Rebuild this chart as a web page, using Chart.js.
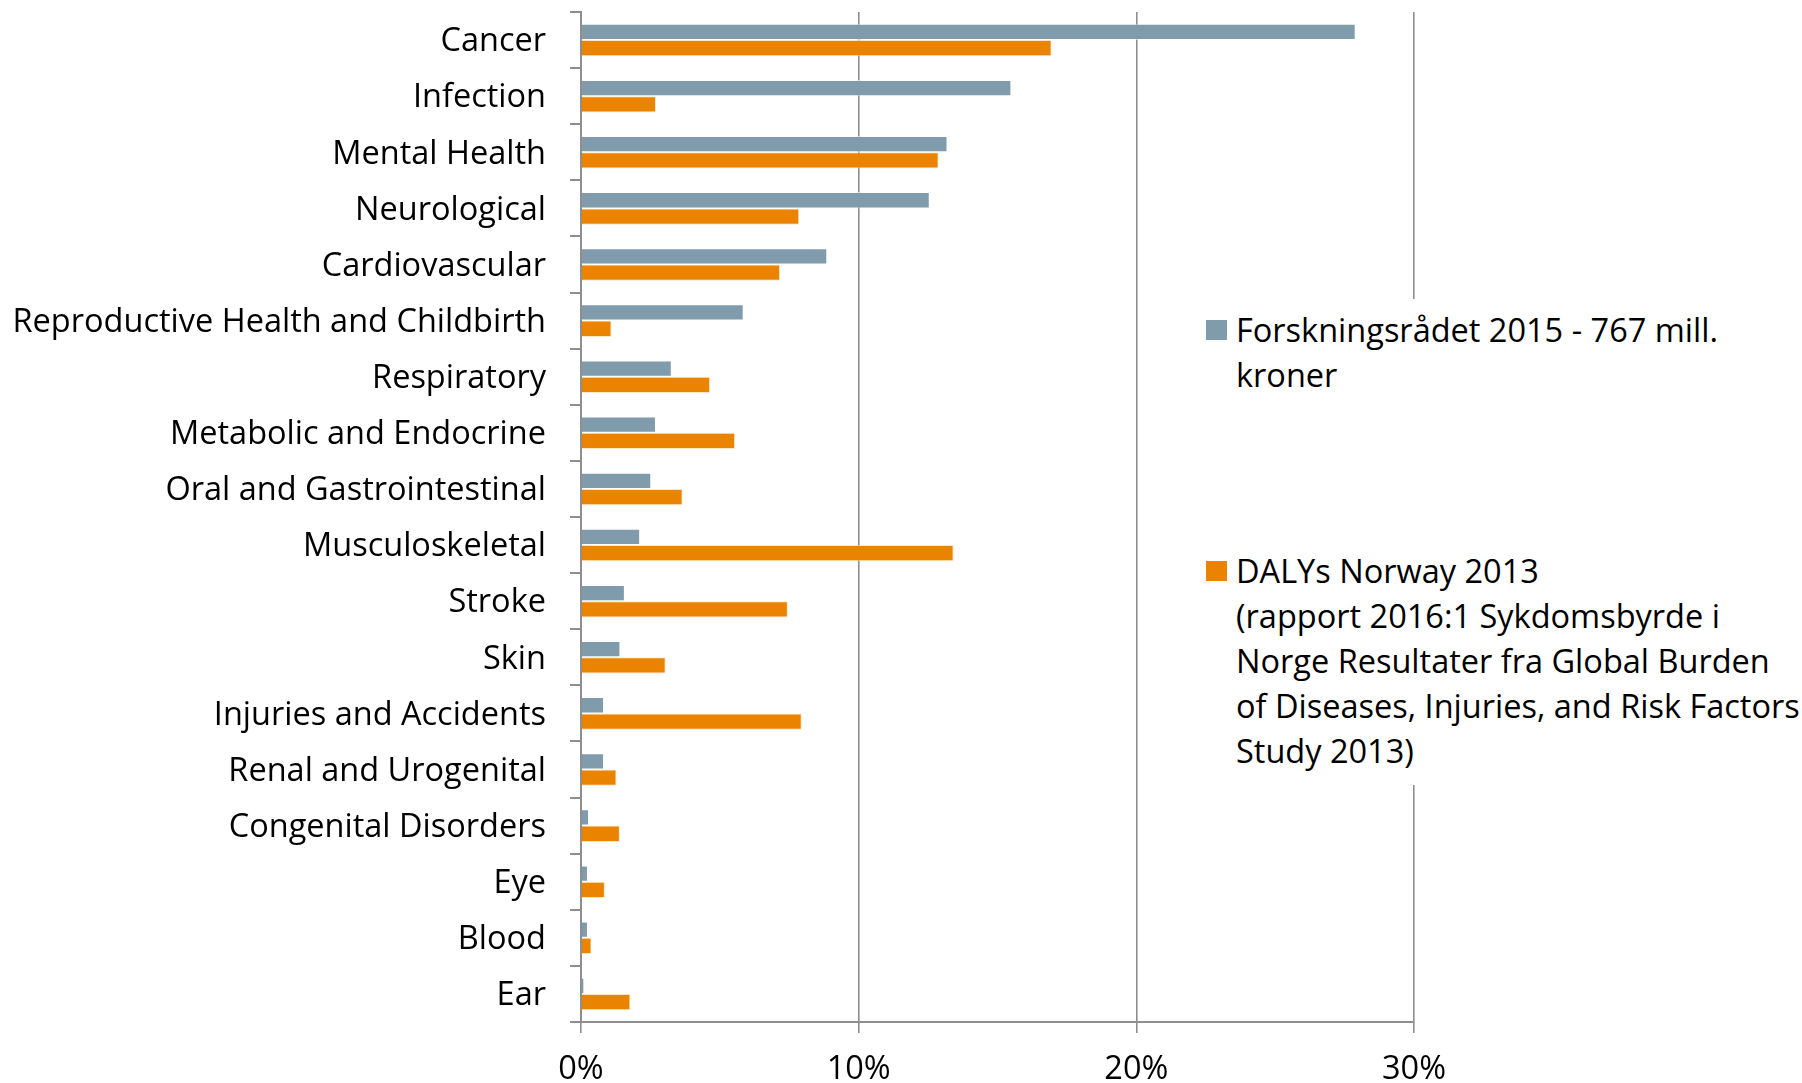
<!DOCTYPE html>
<html>
<head>
<meta charset="utf-8">
<script src="https://cdn.jsdelivr.net/npm/chart.js@4/dist/chart.umd.min.js"></script>
<style>
  html, body { margin: 0; padding: 0; background: #fff; }
  #wrap { position: relative; width: 1802px; height: 1083px; }
  #legend { position: absolute; left: 1195px; top: 299px; width: 607px; height: 486px; background: #fff;
            font-family: 'Open Sans', sans-serif; font-size: 32.5px; color: #000; }
  .item { position: absolute; left: 11px; line-height: 45px; }
  .item .sw { position: absolute; left: 0; width: 21px; height: 20px; }
  .item .txt { position: absolute; left: 30px; white-space: nowrap; }
</style>
</head>
<body>
<div id="wrap">
  <canvas id="chart" width="1802" height="1083"></canvas>
  <div id="legend"></div>
</div>
<script>
const categories = ['Cancer', 'Infection', 'Mental Health', 'Neurological', 'Cardiovascular',
  'Reproductive Health and Childbirth', 'Respiratory', 'Metabolic and Endocrine',
  'Oral and Gastrointestinal', 'Musculoskeletal', 'Stroke', 'Skin', 'Injuries and Accidents',
  'Renal and Urogenital', 'Congenital Disorders', 'Eye', 'Blood', 'Ear'];

const forskningsradet = [27.9, 15.5, 13.2, 12.56, 8.87, 5.86, 3.27, 2.7, 2.53, 2.13, 1.58, 1.42,
  0.83, 0.83, 0.29, 0.25, 0.25, 0.12];
const dalys = [16.95, 2.7, 12.88, 7.86, 7.17, 1.1, 4.65, 5.55, 3.66, 13.42, 7.45, 3.05,
  7.95, 1.28, 1.4, 0.86, 0.38, 1.78];

const seriesNames = ['Forskningsrådet 2015 - 767 mill. kroner', 'DALYs Norway 2013'];
const xTicks = [0, 10, 20, 30];

const blue = '#7F9BAC';
const orange = '#EA8400';
const gridGray = '#8E8E8E';
const font = { family: 'Open Sans', size: 32.5 };

// legend drawn as html, lines broken like the original
const legendItems = [
  { color: blue, top: 307, lines: ['Forskningsrådet 2015 - 767 mill.', 'kroner'] },
  { color: orange, top: 548, lines: ['DALYs Norway 2013', '(rapport 2016:1 Sykdomsbyrde i',
    'Norge Resultater fra Global Burden', 'of Diseases, Injuries, and Risk Factors', 'Study 2013)'] }
];
document.getElementById('legend').innerHTML = legendItems.map(it => `
  <div class="item" style="top:${it.top - 299}px">
    <div class="sw" style="background:${it.color};top:13px"></div>
    <div class="txt">${it.lines.join('<br>')}</div>
  </div>`).join('');

new Chart(document.getElementById('chart').getContext('2d'), {
  type: 'bar',
  data: {
    labels: categories,
    datasets: [
      { label: seriesNames[0], data: forskningsradet, backgroundColor: blue,
        borderColor: 'rgba(255,255,255,0.5)', borderWidth: 1 },
      { label: seriesNames[1], data: dalys, backgroundColor: orange,
        borderColor: 'rgba(255,220,170,0.7)', borderWidth: 1 }
    ]
  },
  options: {
    indexAxis: 'y',
    responsive: false,
    animation: false,
    datasets: { bar: { categoryPercentage: 0.58, barPercentage: 1 } },
    layout: { padding: { left: 0, top: 12, right: 388, bottom: 0 } },
    plugins: { legend: { display: false }, tooltip: { enabled: false } },
    scales: {
      x: {
        min: 0, max: 30,
        afterBuildTicks: s => { s.ticks = xTicks.map(v => ({ value: v })); },
        afterFit: s => { s.height = 61; s.paddingLeft = 0; s.paddingRight = 0; },
        ticks: { color: '#000', font, padding: 17, callback: v => v + '%' },
        grid: { color: gridGray, lineWidth: 1.6, tickLength: 11 },
        border: { color: gridGray, width: 2 }
      },
      y: {
        afterFit: s => { s.width = 581; s.paddingTop = 0; s.paddingBottom = 0; },
        ticks: { color: '#000', font, padding: 24, labelOffset: 2 },
        grid: { drawOnChartArea: false, color: gridGray, lineWidth: 2, tickLength: 11 },
        border: { color: gridGray, width: 2 }
      }
    }
  }
});
</script>
</body>
</html>
